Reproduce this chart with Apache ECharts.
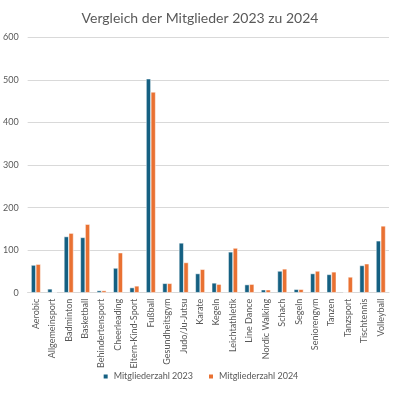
<!DOCTYPE html>
<html><head><meta charset="utf-8">
<script src="https://cdn.jsdelivr.net/npm/echarts@6/dist/echarts.min.js"></script>
<style>html,body{margin:0;padding:0;background:#fff}#c{width:400px;height:395px}</style>
</head><body><div id="c"></div>
<script>
const categories = ["Aerobic","Allgemeinsport","Badminton","Basketball","Behindertensport","Cheerleading","Eltern-Kind-Sport","Fußball","Gesundheitsgym","Judo/Ju-Jutsu","Karate","Kegeln","Leichtathletik","Line Dance","Nordic Walking","Schach","Segeln","Seniorengym","Tanzen","Tanzsport","Tischtennis","Volleyball"];
const members2023 = [65,9,132,130,5,58,12,503,22,117,45,23,96,19,7,51,8,45,43,0,64,122];
const members2024 = [67,0,140,161,5,94,16,472,22,71,55,20,105,20,7,56,8,51,49,37,68,157];
const seriesNames = ["Mitgliederzahl 2023","Mitgliederzahl 2024"];
const chart = echarts.init(document.getElementById('c'));
const ff = 'Lato, "Open Sans", sans-serif';
chart.setOption({
  animation:false,
  title:{text:"Vergleich der Mitglieder 2023 zu 2024",left:'center',top:6,textStyle:{fontFamily:ff,fontSize:14,fontWeight:'normal',color:'#595959'}},
  legend:{bottom:9,left:'center',itemWidth:6,itemHeight:6,itemGap:14,icon:'rect',textStyle:{fontFamily:ff,fontSize:9,color:'#595959'},data:seriesNames},
  grid:{left:27,right:11,top:37.5,bottom:102.3,containLabel:false},
  xAxis:{type:'category',data:categories,axisTick:{show:false},axisLine:{lineStyle:{color:'#d9d9d9'}},
    axisLabel:{rotate:90,interval:0,margin:6,fontFamily:ff,fontSize:9,color:'#595959'}},
  yAxis:{type:'value',min:0,max:600,interval:100,axisLine:{show:false},axisTick:{show:false},
    splitLine:{lineStyle:{color:'#d9d9d9'}},axisLabel:{margin:9,fontFamily:ff,fontSize:9,color:'#595959'}},
  series:[
    {name:seriesNames[0],type:'bar',data:members2023,barGap:'0%',barCategoryGap:'42%',itemStyle:{color:'#156082',borderColor:'#ffffff',borderWidth:0.5}},
    {name:seriesNames[1],type:'bar',data:members2024,itemStyle:{color:'#E97132',borderColor:'#ffffff',borderWidth:0.5}}
  ]
});
</script></body></html>
